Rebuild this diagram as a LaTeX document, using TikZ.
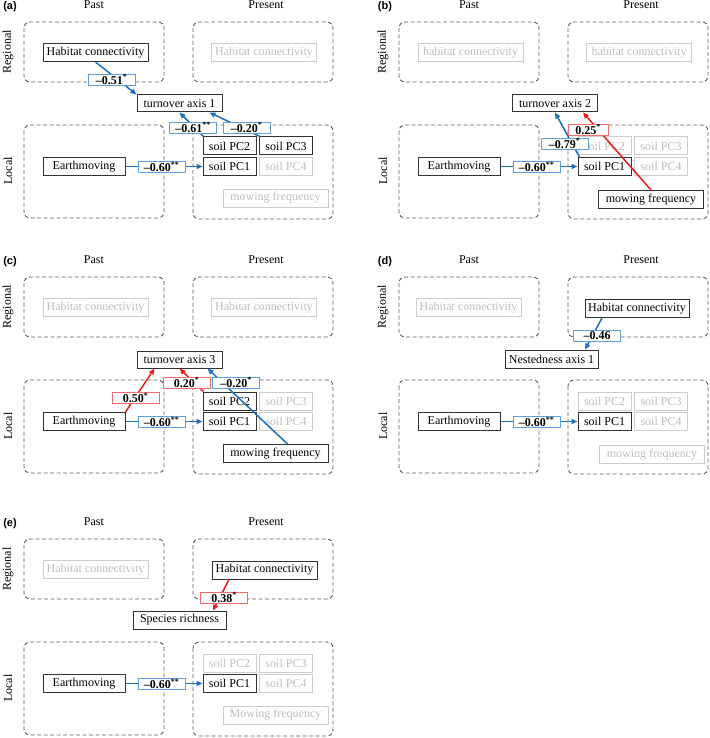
\documentclass[tikz,border=0pt]{standalone}
\usepackage{fontspec}
\setmainfont{Liberation Serif}
\newfontfamily\tagfont{Liberation Sans}
\usetikzlibrary{arrows.meta}
\definecolor{ablue}{RGB}{28,112,190}
\definecolor{lblue}{RGB}{95,160,220}
\definecolor{ared}{RGB}{232,28,28}
\definecolor{lred}{RGB}{242,110,110}
\definecolor{grp}{RGB}{95,95,95}
\definecolor{gtext}{RGB}{190,190,190}
\definecolor{gline}{RGB}{205,205,205}
\tikzset{
  grpbox/.style={draw=grp, line width=0.9pt, dash pattern=on 4pt off 2.5pt, rounded corners=6pt},
  nd/.style={draw=black!80, line width=1pt, fill=white, minimum height=18pt, inner xsep=3pt, inner ysep=0pt, font=\fontsize{12}{14}\selectfont},
  gnd/.style={nd, draw=gline, text=gtext},
  soil/.style={minimum width=53pt},
  lab/.style={fill=white, line width=0.8pt, minimum width=47pt, minimum height=11pt, inner sep=0pt, font=\fontsize{12}{12}\selectfont\bfseries},
  lbb/.style={lab, draw=lblue},
  lbr/.style={lab, draw=lred},
  arb/.style={draw=ablue, line width=1.5pt, -{Triangle[length=6pt,width=5pt]}},
  arr/.style={draw=ared, line width=1.5pt, -{Triangle[length=6pt,width=5pt]}},
  hdr/.style={font=\fontsize{12}{14}\selectfont, inner sep=0pt},
  side/.style={font=\fontsize{12}{14}\selectfont, inner sep=0pt, rotate=90},
  ptag/.style={font=\tagfont\bfseries\fontsize{11}{13}\selectfont, inner sep=0pt}
}
\newcommand{\pframe}[1]{%
  \node[ptag] (#1-tag) at (10,7) {(#1)};
  \node[hdr] (#1-past) at (94,5) {Past};
  \node[hdr] (#1-pres) at (266,5) {Present};
  \node[side] (#1-reg) at (8,52) {Regional};
  \node[side] (#1-loc) at (8,171) {Local};
  \draw[grpbox] (24,22) rectangle (164,82);
  \draw[grpbox] (193,22) rectangle (333,82);
  \draw[grpbox] (24,125) rectangle (164,218);
  \draw[grpbox] (193,125) rectangle (333,219);
}
\newcommand{\sig}[1]{\textsuperscript{#1}}
\begin{document}
\begin{tikzpicture}[x=1pt,y=-1pt]
\useasboundingbox (0,0) rectangle (709,738);
% ---------------- (a)
\begin{scope}
\pframe{a}
\node[nd, minimum width=105pt] (a-hab) at (95.5,52.5) {Habitat connectivity};
\node[gnd, minimum width=105pt] (a-habp) at (264,52.5) {Habitat connectivity};
\node[nd, minimum width=85pt, minimum height=17pt] (a-turn) at (179.5,103.5) {turnover axis 1};
\node[nd, minimum width=82pt] (a-earth) at (84,166.5) {Earthmoving};
\node[nd, soil] (a-pc2) at (229.5,146) {soil PC2};
\node[nd, soil] (a-pc3) at (286,146) {soil PC3};
\node[nd, soil] (a-pc1) at (229.5,166.5) {soil PC1};
\node[gnd, soil] (a-pc4) at (286,166.5) {soil PC4};
\node[gnd, minimum width=105pt] (a-mow) at (275.5,198) {mowing frequency};
\draw[arb] (a-hab.south) -- (a-turn.north west);
\draw[arb] (a-earth) -- (a-pc1);
\draw[arb] ([xshift=1pt]a-pc2.north west) -- (a-turn.south);
\draw[arb] ([xshift=1pt]a-pc3.north west) -- ([xshift=30pt]a-turn.south);
\node[lbb] (a-l1) at (111.5,79.5) {–0.51\sig{*}};
\node[lbb] (a-l2) at (161.5,167) {–0.60\sig{**}};
\node[lbb] (a-l3) at (193,127.5) {–0.61\sig{**}};
\node[lbb] (a-l4) at (246.5,127.5) {–0.20\sig{*}};
\end{scope}
% ---------------- (b)
\begin{scope}[shift={(375,0)}]
\pframe{b}
\node[gnd, minimum width=105pt] (b-hab) at (95.5,52.5) {habitat connectivity};
\node[gnd, minimum width=105pt] (b-habp) at (264,52.5) {habitat connectivity};
\node[nd, minimum width=85pt, minimum height=17pt] (b-turn) at (180,103.5) {turnover axis 2};
\node[nd, minimum width=82pt] (b-earth) at (84,166.5) {Earthmoving};
\node[gnd, soil] (b-pc2) at (229.5,146) {soil PC2};
\node[gnd, soil] (b-pc3) at (286,146) {soil PC3};
\node[nd, soil] (b-pc1) at (229.5,166.5) {soil PC1};
\node[gnd, soil] (b-pc4) at (286,166.5) {soil PC4};
\node[nd, minimum width=105pt] (b-mow) at (276,199.5) {mowing frequency};
\draw[arb] (b-earth) -- (b-pc1);
\draw[arb] ([xshift=2pt]b-pc1.north west) -- (b-turn.south);
\draw[arr] (b-mow.north) -- ([xshift=28pt]b-turn.south);
\node[lbb] (b-l1) at (161.5,167) {–0.60\sig{**}};
\node[lbb] (b-l2) at (189.5,143.5) {–0.79\sig{*}};
\node[lbr, minimum width=40pt] (b-l3) at (213,129.5) {0.25\sig{*}};
\end{scope}
% ---------------- (c)
\begin{scope}[shift={(0,255)}]
\pframe{c}
\node[gnd, minimum width=105pt] (c-hab) at (95.5,52.5) {Habitat connectivity};
\node[gnd, minimum width=105pt] (c-habp) at (264,52.5) {Habitat connectivity};
\node[nd, minimum width=85pt, minimum height=17pt] (c-turn) at (179.5,104.5) {turnover axis 3};
\node[nd, minimum width=82pt] (c-earth) at (84,166.5) {Earthmoving};
\node[nd, soil] (c-pc2) at (229.5,146) {soil PC2};
\node[gnd, soil] (c-pc3) at (286,146) {soil PC3};
\node[nd, soil] (c-pc1) at (229.5,166.5) {soil PC1};
\node[gnd, soil] (c-pc4) at (286,166.5) {soil PC4};
\node[nd, minimum width=105pt] (c-mow) at (275.5,198.5) {mowing frequency};
\draw[arb] (c-earth) -- (c-pc1);
\draw[arr] (c-earth.north east) -- ([xshift=-25pt]c-turn.south);
\draw[arr] ([xshift=1pt]c-pc2.north west) -- (c-turn.south);
\draw[arb] ([xshift=12pt]c-mow.north) -- ([xshift=28pt]c-turn.south);
\node[lbb] (c-l1) at (161.5,167) {–0.60\sig{**}};
\node[lbr] (c-l2) at (135.5,143) {0.50\sig{*}};
\node[lbr] (c-l3) at (186.5,127.5) {0.20\sig{*}};
\node[lbb] (c-l4) at (236,127.5) {–0.20\sig{*}};
\end{scope}
% ---------------- (d)
\begin{scope}[shift={(375,255)}]
\pframe{d}
\node[gnd, minimum width=105pt] (d-hab) at (93.5,52.5) {Habitat connectivity};
\node[nd, minimum width=104pt] (d-habp) at (262,53.5) {Habitat connectivity};
\node[nd, minimum width=93pt] (d-nest) at (176.5,104) {Nestedness axis 1};
\node[nd, minimum width=82pt] (d-earth) at (84,166.5) {Earthmoving};
\node[gnd, soil] (d-pc2) at (229.5,146) {soil PC2};
\node[gnd, soil] (d-pc3) at (286,146) {soil PC3};
\node[nd, soil] (d-pc1) at (229.5,166.5) {soil PC1};
\node[gnd, soil] (d-pc4) at (286,166.5) {soil PC4};
\node[gnd, minimum width=105pt] (d-mow) at (277,199.5) {mowing frequency};
\draw[arb] (d-earth) -- (d-pc1);
\draw[arb] ([xshift=-35pt]d-habp.south) -- ([xshift=33.5pt]d-nest.north);
\node[lbb] (d-l1) at (161.5,167) {–0.60\sig{**}};
\node[lbb] (d-l2) at (222,80.5) {–0.46};
\end{scope}
% ---------------- (e)
\begin{scope}[shift={(0,517)}]
\pframe{e}
\node[gnd, minimum width=105pt] (e-hab) at (95.5,52.5) {Habitat connectivity};
\node[nd, minimum width=105pt] (e-habp) at (264.5,53) {Habitat connectivity};
\node[nd, minimum width=93pt] (e-spec) at (179.5,103) {Species richness};
\node[nd, minimum width=82pt] (e-earth) at (84,166.5) {Earthmoving};
\node[gnd, soil] (e-pc2) at (229.5,146) {soil PC2};
\node[gnd, soil] (e-pc3) at (286,146) {soil PC3};
\node[nd, soil] (e-pc1) at (229.5,166.5) {soil PC1};
\node[gnd, soil] (e-pc4) at (286,166.5) {soil PC4};
\node[gnd, minimum width=105pt] (e-mow) at (275.5,198) {Mowing frequency};
\draw[arb] (e-earth) -- (e-pc1);
\draw[arr] ([xshift=-35.5pt]e-habp.south) -- ([xshift=33.5pt]e-spec.north);
\node[lbb] (e-l1) at (161.5,167) {–0.60\sig{**}};
\node[lbr] (e-l2) at (224,80.5) {0.38\sig{*}};
\end{scope}
\end{tikzpicture}
\end{document}
